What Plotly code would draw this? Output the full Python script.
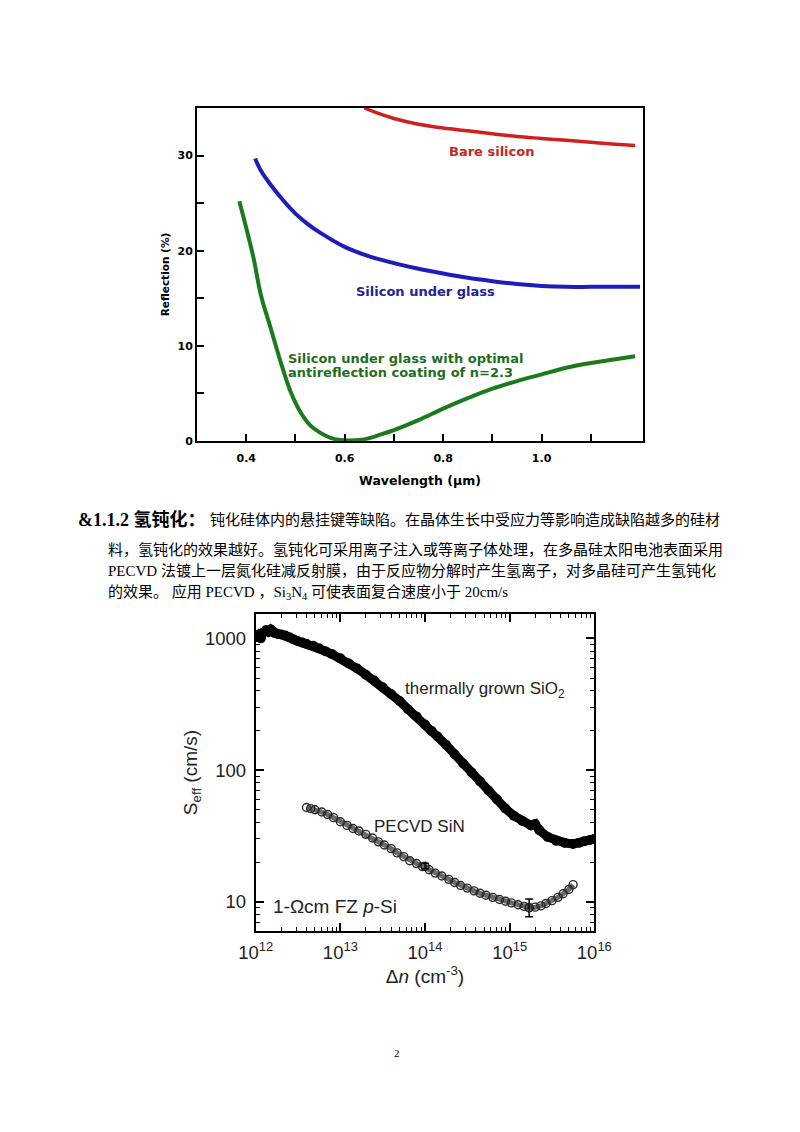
import plotly.graph_objects as go

W, H = 800, 1132
# the page body adds an 8 px margin around the figure
OFF = 8


def fx(px):
    return (px - OFF) / W


def fy(py):
    return 1 - (py - OFF) / H


# ---------------- Chart 1: reflection vs wavelength ----------------
bare_wl = [0.64, 0.67, 0.70, 0.75, 0.80, 0.85, 0.90, 0.95, 1.00, 1.05, 1.10, 1.15, 1.19]
bare_r = [35.0, 34.4, 33.9, 33.3, 32.9, 32.6, 32.3, 32.0, 31.8, 31.6, 31.4, 31.2, 31.05]

glass_wl = [0.418, 0.43, 0.45, 0.475, 0.50, 0.525, 0.55, 0.60, 0.65, 0.70, 0.75,
            0.80, 0.85, 0.90, 0.95, 1.00, 1.05, 1.10, 1.15, 1.20]
glass_r = [29.7, 28.4, 26.9, 25.3, 23.9, 22.8, 21.9, 20.4, 19.4, 18.7, 18.1,
           17.6, 17.15, 16.8, 16.5, 16.3, 16.2, 16.2, 16.2, 16.2]

arc_wl = [0.386, 0.40, 0.415, 0.43, 0.45, 0.47, 0.49, 0.51, 0.53, 0.55, 0.57, 0.59,
          0.61, 0.63, 0.65, 0.68, 0.70, 0.75, 0.80, 0.85, 0.90, 0.95, 1.00, 1.05,
          1.10, 1.15, 1.19]
arc_r = [25.2, 22.4, 19.2, 15.3, 11.8, 8.3, 5.2, 3.05, 1.65, 0.88, 0.36, 0.1,
         0.05, 0.1, 0.3, 0.8, 1.15, 2.2, 3.4, 4.5, 5.5, 6.3, 7.0, 7.7,
         8.2, 8.6, 8.9]

x1_ticks = [0.4, 0.6, 0.8, 1.0]
x1_ticktext = ["0.4", "0.6", "0.8", "1.0"]
x1_minor = [0.3, 0.5, 0.7, 0.9, 1.1]
y1_ticks = [0, 10, 20, 30]
y1_ticktext = ["0", "10", "20", "30"]
y1_minor = [5, 15, 25]

# ---------------- Chart 2: S_eff vs injection level ----------------
sio2_dn = [1.0e12, 1.07e12, 1.15e12, 1.20e12, 1.32e12, 1.41e12, 1.51e12, 1.66e12,
           1.82e12, 2.0e12, 2.24e12, 2.51e12, 2.82e12, 3.16e12, 3.55e12, 3.98e12,
           4.79e12, 5.62e12, 6.61e12, 7.94e12, 1.0e13, 1.26e13, 1.58e13, 2.0e13,
           2.51e13, 3.16e13, 3.98e13, 5.01e13, 6.31e13, 7.94e13, 1.0e14, 1.2e14,
           1.41e14, 1.78e14, 2.24e14, 2.82e14, 3.55e14, 4.47e14, 5.62e14, 7.08e14,
           8.91e14, 1.12e15, 1.41e15, 1.78e15, 2.0e15, 2.24e15, 2.82e15, 3.55e15,
           4.47e15, 5.62e15, 6.61e15, 7.59e15, 8.91e15, 1.0e16]
sio2_s = [1020, 1060, 1000, 1100, 1150, 1120, 1170, 1100,
          1080, 1070, 1050, 1020, 980, 950, 930, 910,
          880, 840, 800, 760, 705, 645, 590, 530,
          478, 425, 378, 335, 290, 255, 222, 198,
          180, 155, 132, 112, 96, 82, 70, 60,
          51, 45, 41, 38, 39, 35, 31, 29,
          28, 27.5, 28, 28.8, 29.5, 30]

sin_dn = [3.98e12, 4.47e12, 5.01e12, 6.03e12, 7.08e12, 8.32e12, 1.0e13, 1.2e13,
          1.41e13, 1.66e13, 2.0e13, 2.4e13, 2.82e13, 3.31e13, 3.98e13, 4.68e13,
          5.62e13, 6.61e13, 7.94e13, 9.33e13, 1.12e14, 1.32e14, 1.58e14, 1.91e14,
          2.24e14, 2.63e14, 3.16e14, 3.8e14, 4.47e14, 5.25e14, 6.31e14, 7.59e14,
          8.91e14, 1.05e15, 1.26e15, 1.48e15, 1.7e15, 2.0e15, 2.34e15, 2.69e15,
          3.16e15, 3.72e15, 4.27e15, 5.01e15, 5.62e15]
sin_s = [52, 51, 50, 48, 46, 43.5, 40.5, 38,
         36, 34.5, 32.5, 30.5, 28.5, 27, 25.3, 23.5,
         22, 20.5, 19.5, 18.5, 17.5, 16.5, 15.7, 14.8,
         14.0, 13.3, 12.7, 12.1, 11.6, 11.2, 10.8, 10.4,
         10.1, 9.8, 9.5, 9.2, 9.0, 9.1, 9.3, 9.7,
         10.2, 10.8, 11.5, 12.4, 13.5]

err_dn = [1.7e15, 1.0e14]
err_s = [9.0, 18.6]
err_plus = [1.5, 0.9]
err_minus = [1.3, 0.8]

x2_ticks = [1e12, 1e13, 1e14, 1e15, 1e16]
x2_ticktext = ["10<sup>12</sup>", "10<sup>13</sup>", "10<sup>14</sup>",
               "10<sup>15</sup>", "10<sup>16</sup>"]
y2_ticks = [10, 100, 1000]
y2_ticktext = ["10", "100", "1000"]

RED, BLUE, GREEN = "#d11f1f", "#1d1dbd", "#1b7a1b"
BOLD = "DejaVu Sans"
SANS = "Liberation Sans, Arial, sans-serif"
SERIF = "Liberation Serif, Noto Sans CJK SC, serif"

fig = go.Figure()

fig.add_trace(go.Scatter(x=bare_wl, y=bare_r, mode="lines", line=dict(color=RED, width=3.5, shape="spline"),
                         xaxis="x", yaxis="y", showlegend=False))
fig.add_trace(go.Scatter(x=glass_wl, y=glass_r, mode="lines", line=dict(color=BLUE, width=4, shape="spline"),
                         xaxis="x", yaxis="y", showlegend=False))
fig.add_trace(go.Scatter(x=arc_wl, y=arc_r, mode="lines", line=dict(color=GREEN, width=4, shape="spline"),
                         xaxis="x", yaxis="y", showlegend=False))

fig.add_trace(go.Scatter(x=sio2_dn, y=sio2_s, mode="lines+markers",
                         line=dict(color="black", width=9),
                         marker=dict(color="black", size=10),
                         xaxis="x2", yaxis="y2", showlegend=False))
fig.add_trace(go.Scatter(x=sin_dn, y=sin_s, mode="lines",
                         line=dict(color="#6a6a6a", width=5),
                         xaxis="x2", yaxis="y2", showlegend=False, hoverinfo="skip"))
fig.add_trace(go.Scatter(x=sin_dn, y=sin_s, mode="markers",
                         marker=dict(symbol="circle-open", color="#2a2a2a", size=8, line=dict(width=1.4)),
                         xaxis="x2", yaxis="y2", showlegend=False))
fig.add_trace(go.Scatter(x=err_dn, y=err_s, mode="markers",
                         marker=dict(symbol="circle-open", color="#222222", size=8, line=dict(width=1.4)),
                         error_y=dict(type="data", array=err_plus, arrayminus=err_minus,
                                      color="black", thickness=1.5, width=4),
                         xaxis="x2", yaxis="y2", showlegend=False))

annotations = []

# chart 1 labels
annotations.append(dict(xref="paper", yref="paper", x=fx(491.7), y=fy(151), text="Bare silicon",
                        showarrow=False, xanchor="center", yanchor="middle",
                        font=dict(family=BOLD, size=13, color="#c42626", weight="bold")))
annotations.append(dict(xref="paper", yref="paper", x=fx(425), y=fy(291), text="Silicon under glass",
                        showarrow=False, xanchor="center", yanchor="middle",
                        font=dict(family=BOLD, size=13, color="#22229a", weight="bold")))
annotations.append(dict(xref="paper", yref="paper", x=fx(286), y=fy(358), text="Silicon under glass with optimal",
                        showarrow=False, xanchor="left", yanchor="middle",
                        font=dict(family=BOLD, size=13, color="#1e6e1e", weight="bold")))
annotations.append(dict(xref="paper", yref="paper", x=fx(286), y=fy(372), text="antireflection coating of n=2.3",
                        showarrow=False, xanchor="left", yanchor="middle",
                        font=dict(family=BOLD, size=13, color="#1e6e1e", weight="bold")))

# chart 2 labels
annotations.append(dict(xref="paper", yref="paper", x=fx(403), y=fy(690), text="thermally grown SiO<sub>2</sub>",
                        showarrow=False, xanchor="left", yanchor="middle",
                        font=dict(family=SANS, size=17, color="#222222")))
annotations.append(dict(xref="paper", yref="paper", x=fx(372), y=fy(826), text="PECVD SiN",
                        showarrow=False, xanchor="left", yanchor="middle",
                        font=dict(family=SANS, size=17, color="#222222")))
annotations.append(dict(xref="paper", yref="paper", x=fx(271), y=fy(906), text="1-Ωcm FZ <i>p</i>-Si",
                        showarrow=False, xanchor="left", yanchor="middle",
                        font=dict(family=SANS, size=19, color="#222222")))

# body text
annotations.append(dict(xref="paper", yref="paper", x=fx(76), y=fy(519), text="<b>&amp;1.1.2 氢钝化：</b>",
                        showarrow=False, xanchor="left", yanchor="middle",
                        font=dict(family=SERIF, size=18, color="black")))
body = [
    (208, 519, "钝化硅体内的悬挂键等缺陷。在晶体生长中受应力等影响造成缺陷越多的硅材"),
    (106, 549, "料，氢钝化的效果越好。氢钝化可采用离子注入或等离子体处理，在多晶硅太阳电池表面采用"),
    (106, 570, "PECVD 法镀上一层氮化硅减反射膜，由于反应物分解时产生氢离子，对多晶硅可产生氢钝化"),
    (106, 592, "的效果。 应用 PECVD ，Si<sub>3</sub>N<sub>4</sub> 可使表面复合速度小于 20cm/s"),
]
for px, py, t in body:
    annotations.append(dict(xref="paper", yref="paper", x=fx(px), y=fy(py), text=t,
                            showarrow=False, xanchor="left", yanchor="middle",
                            font=dict(family=SERIF, size=15, color="black")))

annotations.append(dict(xref="paper", yref="paper", x=fx(397), y=fy(1053), text="2",
                        showarrow=False, xanchor="center", yanchor="middle",
                        font=dict(family=SERIF, size=11, color="black")))

fig.update_layout(
    width=W, height=H, autosize=False,
    margin=dict(l=0, r=0, t=0, b=0, autoexpand=False),
    paper_bgcolor="white", plot_bgcolor="white",
    showlegend=False,
    annotations=annotations,
    xaxis=dict(
        domain=[fx(197), fx(643)], anchor="y", range=[0.3, 1.206], automargin=False,
        tickmode="array", tickvals=x1_ticks, ticktext=x1_ticktext,
        ticks="inside", ticklen=7, tickwidth=2, tickcolor="black",
        minor=dict(ticks="inside", ticklen=7, tickwidth=2, tickcolor="black",
                   tickmode="array", tickvals=x1_minor, showgrid=False),
        showline=True, linewidth=2, linecolor="black", mirror=True,
        showgrid=False, zeroline=False, ticklabelstandoff=6,
        tickfont=dict(family=BOLD, size=11, color="black", weight="bold"),
        title=dict(text="Wavelength (µm)", standoff=12,
                   font=dict(family=BOLD, size=12.5, color="black", weight="bold")),
    ),
    yaxis=dict(
        domain=[fy(441), fy(108)], anchor="x", range=[0, 35], automargin=False,
        tickmode="array", tickvals=y1_ticks, ticktext=y1_ticktext,
        ticks="inside", ticklen=7, tickwidth=2, tickcolor="black",
        minor=dict(ticks="inside", ticklen=7, tickwidth=2, tickcolor="black",
                   tickmode="array", tickvals=y1_minor, showgrid=False),
        showline=True, linewidth=2, linecolor="black", mirror=True,
        showgrid=False, zeroline=False, ticklabelstandoff=0,
        tickfont=dict(family=BOLD, size=11, color="black", weight="bold"),
        title=dict(text="Reflection (%)", standoff=6,
                   font=dict(family=BOLD, size=10.5, color="black", weight="bold")),
    ),
    xaxis2=dict(
        domain=[fx(255.7), fx(594.3)], anchor="y2", type="log", range=[12, 16], automargin=False,
        tickmode="array", tickvals=x2_ticks, ticktext=x2_ticktext,
        ticks="inside", ticklen=8, tickwidth=1.5, tickcolor="black",
        minor=dict(ticks="inside", ticklen=4, tickwidth=1.2, tickcolor="black", dtick="D1", showgrid=False),
        showline=True, linewidth=1.8, linecolor="black", mirror="allticks",
        showgrid=False, zeroline=False, ticklabelstandoff=4,
        tickfont=dict(family=SANS, size=18.5, color="#222222"),
        title=dict(text="Δ<i>n</i> (cm<sup>-3</sup>)", standoff=4,
                   font=dict(family=SANS, size=19, color="#222222")),
    ),
    yaxis2=dict(
        domain=[fy(931), fy(614)], anchor="x2", type="log", range=[0.778, 3.185], automargin=False,
        tickmode="array", tickvals=y2_ticks, ticktext=y2_ticktext,
        ticks="inside", ticklen=8, tickwidth=1.5, tickcolor="black",
        minor=dict(ticks="inside", ticklen=4, tickwidth=1.2, tickcolor="black", dtick="D1", showgrid=False),
        showline=True, linewidth=1.8, linecolor="black", mirror="allticks",
        showgrid=False, zeroline=False, ticklabelstandoff=4,
        tickfont=dict(family=SANS, size=18.5, color="#222222"),
        title=dict(text="S<sub>eff</sub> (cm/s)", standoff=2,
                   font=dict(family=SANS, size=19, color="#222222")),
    ),
)

fig.write_html("out.html")
